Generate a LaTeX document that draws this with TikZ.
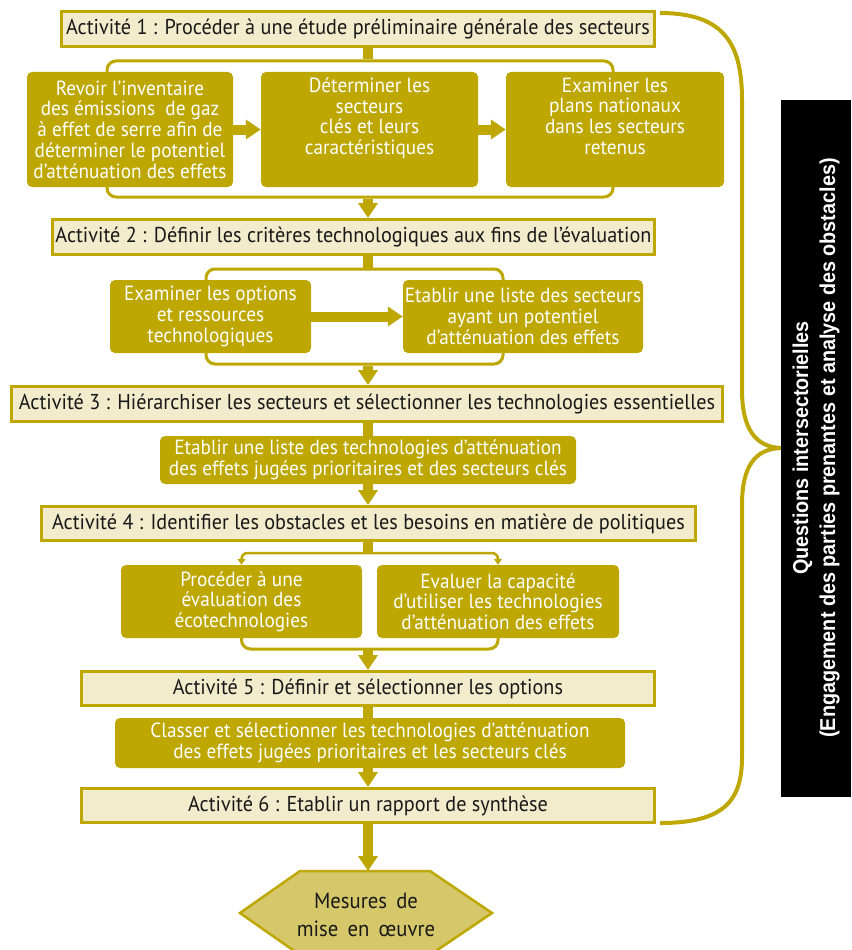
\documentclass[tikz,border=0pt]{standalone}
\usepackage{fontspec}
\setmainfont{PT Sans}[FakeStretch=0.94]
\newfontfamily\sidefont[FakeStretch=0.92]{Liberation Sans}
\usetikzlibrary{arrows.meta, positioning}
\definecolor{gold}{RGB}{189,167,0}
\definecolor{cream}{RGB}{242,236,204}
\definecolor{hexgold}{RGB}{214,200,106}

\begin{document}
\begin{tikzpicture}[x=1pt, y=-1pt]
	\tikzset{activity/.style={draw=gold, line width=3pt, fill=cream, inner sep=0pt, text=black!90, font=\fontsize{21.5}{24}\selectfont}}
	\tikzset{task/.style={fill=gold, rounded corners=5pt, inner sep=0pt, align=center, text=white, font=\fontsize{20.5}{20.7}\selectfont}}
	\tikzset{bracket/.style={draw=gold, line width=3pt, rounded corners=9pt}}
	\tikzset{spinebar/.style={draw=gold, line width=10pt}}
	\tikzset{flowarrow/.style={draw=gold, line width=10pt, -{Triangle[width=19pt, length=15pt]}}}
	\tikzset{branch/.style={draw=gold, line width=2.5pt, rounded corners=6pt, -{Triangle[width=8pt, length=6pt]}}}
		\useasboundingbox (0,0) rectangle (851,950);
		\coordinate (spine) at (368,0);
		\coordinate (split) at (368,553);
		\coordinate (merge) at (368,649);
		\coordinate (hextop) at (368,871);
		\node[bracket, minimum width=506pt, minimum height=136pt] (loop1) at (360,129) {};
		\node[bracket, minimum width=297pt, minimum height=95pt] (loop2) at (354.5,316.5) {};
		\foreach \name/\x/\y/\w/\h/\tag in {
			act1/358/29/593/35/Activité 1 : Procéder à une étude préliminaire générale des secteurs,
			act2/353.5/237/602/35/Activité 2 : Définir les critères technologiques aux fins de l’évaluation,
			act3/367/404/711/35/Activité 3 : Hiérarchiser les secteurs et sélectionner les technologies essentielles,
			act4/368.5/523.5/654/34/Activité 4 : Identifier les obstacles et les besoins en matière de politiques,
			act5/368/688.5/573/34/Activité 5 : Définir et sélectionner les options,
			act6/368/805.5/573/34/Activité 6 : Etablir un rapport de synthèse}
		{\node[activity, minimum width=\w pt, minimum height=\h pt] (\name) at (\x,\y) {\tag};}
		\node[task, minimum width=206pt, minimum height=115pt] (inventaire) at (130,129.5) {Revoir l’inventaire\\des émissions~ de gaz\\à effet de serre afin de\\déterminer le potentiel\\d’atténuation des effets};
		\node[task, minimum width=217pt, minimum height=115pt] (secteurs) at (369.5,129.5) {Déterminer les\\secteurs\\clés et leurs\\caractéristiques\\\strut};
		\node[task, minimum width=218pt, minimum height=115pt] (plans) at (615,129.5) {Examiner les\\plans nationaux\\dans les secteurs\\retenus\\\strut};
		\node[task, minimum width=201pt, minimum height=73pt] (options) at (210.5,316.5) {Examiner les options\\et ressources\\technologiques};
		\node[task, minimum width=240pt, minimum height=73pt] (potentiel) at (523,316.5) {Etablir une liste des secteurs\\ayant un potentiel\\d’atténuation des effets};
		\node[task, minimum width=416pt, minimum height=48pt] (prioritaires) at (368,460) {Etablir une liste des technologies d’atténuation\\des effets jugées prioritaires et des secteurs clés};
		\node[task, minimum width=241pt, minimum height=73pt] (evaluation) at (241.5,601.5) {Procéder à une\\évaluation des\\écotechnologies};
		\node[task, minimum width=242pt, minimum height=73pt] (capacite) at (498,601.5) {Evaluer la capacité\\d’utiliser les technologies\\d’atténuation des effets};
		\node[task, minimum width=510pt, minimum height=50pt] (classement) at (370,743) {Classer et sélectionner les technologies d’atténuation\\des effets jugées prioritaires et les secteurs clés};
		\draw[flowarrow] (inventaire) -- (secteurs);
		\draw[flowarrow] (secteurs) -- (plans);
		\draw[flowarrow] (options) -- (potentiel);
		\foreach \a/\b in {act1/loop1, act2/loop2, act3/prioritaires, act5/classement}
			\draw[spinebar] (\a.south -| spine) -- (\b.north -| spine);
		\draw[spinebar] (act4.south -| spine) -- (split);
		\foreach \a/\b in {loop1/act2, loop2/act3, prioritaires/act4, classement/act6}
			\draw[flowarrow] (\a.south -| spine) -- (\b.north -| spine);
		\draw[branch] (split) -| (evaluation);
		\draw[branch] (split) -| (capacite);
		\draw[bracket] (evaluation) |- (merge) -| (capacite);
		\draw[flowarrow] (merge) -- (act5.north -| spine);
		% outcome
		\draw[draw=gold, line width=2.5pt, fill=hexgold] (300,871) -- (430,871) -- (492,913) -- (430,955) -- (300,955) -- (240,913) -- cycle;
		\node[align=center, text=black!90, font={\fontsize{22}{28}\selectfont\spaceskip=0.42em\relax}] (mesures) at (366,915) {Mesures de\\mise en œuvre};
		\draw[flowarrow] (act6.south -| spine) -- (hextop);
		% cross-cutting issues
		\node[fill=black, rotate=90, minimum width=697pt, minimum height=70pt, inner sep=0pt, text=white, align=center, font=\sidefont\bfseries\fontsize{21.5}{27}\selectfont] (transversal) at (816,448) {Questions intersectorielles\\(Engagement des parties prenantes et analyse des obstacles)};
		\draw[gold, line width=4pt] (660,13) .. controls (725,13) and (742,45) .. (742,100) -- (742,390) .. controls (742,428) and (755,447) .. (transversal.north) .. controls (755,449) and (742,466) .. (742,505) -- (742,757) .. controls (742,800) and (725,823) .. (660,823);
	\end{tikzpicture}
\end{document}
